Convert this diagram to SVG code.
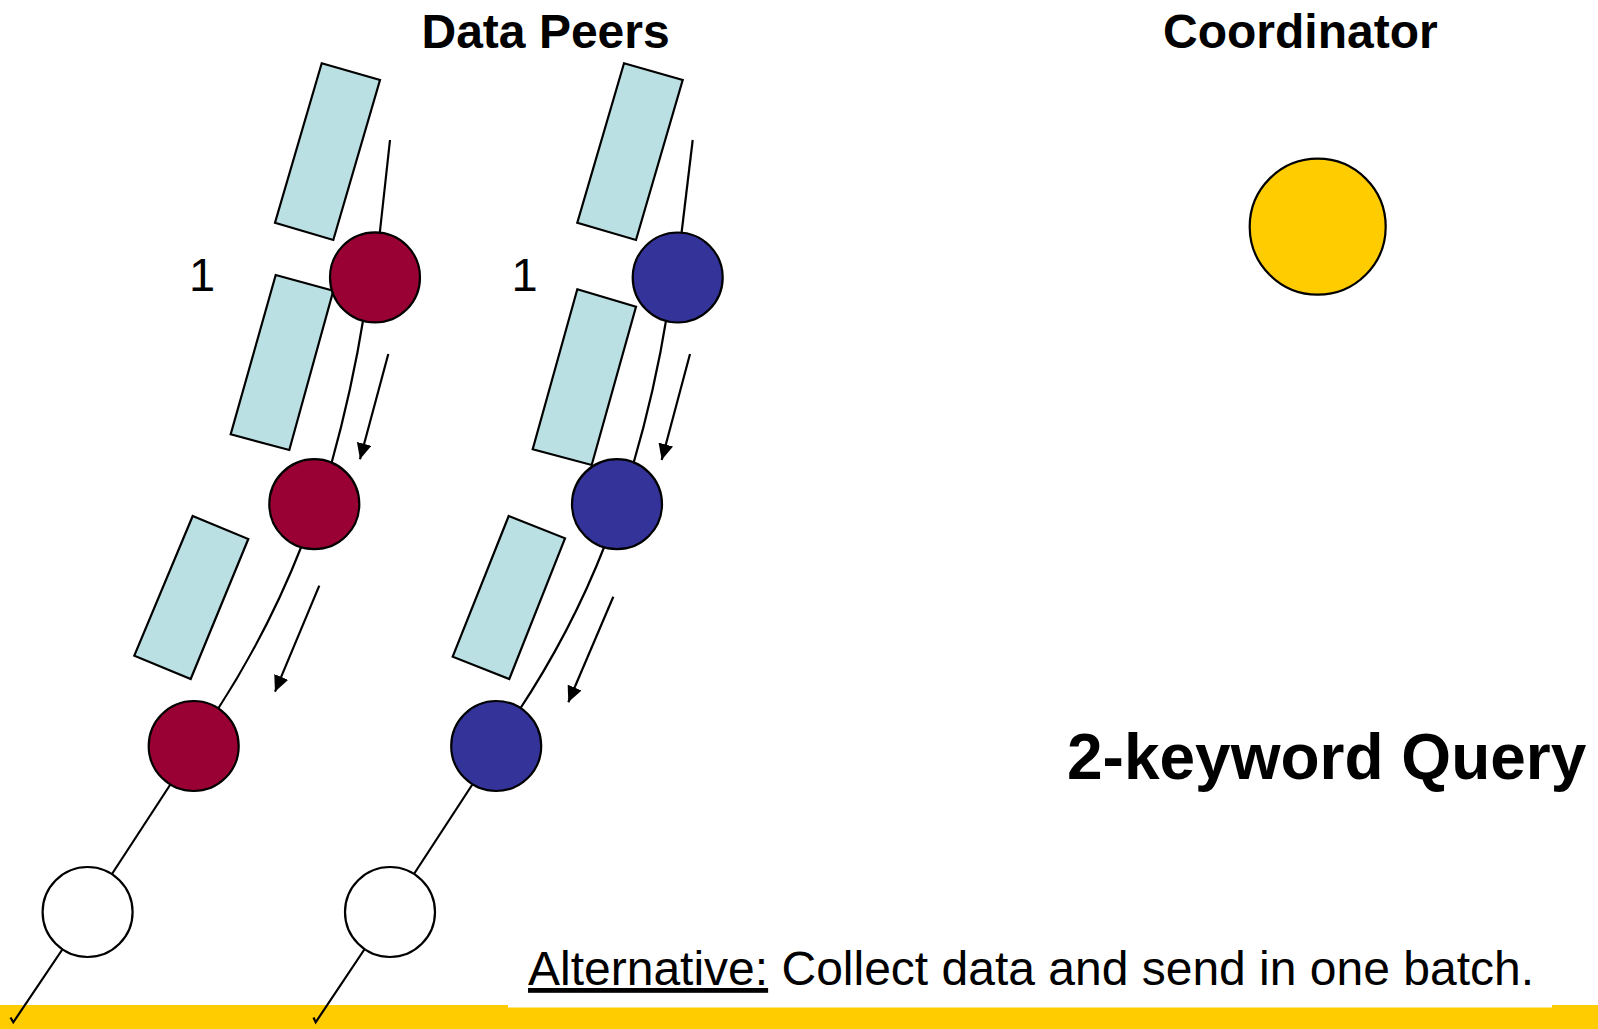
<svg xmlns="http://www.w3.org/2000/svg" width="1598" height="1029" viewBox="0 0 1598 1029">
<style>
.t{font-family:"Liberation Sans",Arial,sans-serif;fill:#000}
.b{font-weight:bold}
.doc{fill:#BBE0E3;stroke:#000;stroke-width:2.2;stroke-linejoin:miter}
.red{fill:#990033;stroke:#000;stroke-width:2.2}
.blue{fill:#333399;stroke:#000;stroke-width:2.2}
.white{fill:#fff;stroke:#000;stroke-width:2.2}
.coord{fill:#FFCC00;stroke:#000;stroke-width:2.2}
.ln{fill:none;stroke:#000;stroke-width:2.2}
.ar{fill:none;stroke:#000;stroke-width:2.2;marker-end:url(#ah)}
</style>
<defs>
<marker id="ah" markerUnits="userSpaceOnUse" markerWidth="17" markerHeight="16" refX="16" refY="7.5" orient="auto">
<path d="M0,0 L16,7.5 L0,15 z" fill="#000"/>
</marker>
</defs>
<rect x="0" y="0" width="1598" height="1029" fill="#fff"/>
<rect id="bar" x="0" y="1005" width="1598" height="24" fill="#FFCC00"/>
<rect x="508" y="1003" width="1044" height="4.5" fill="#fff"/>

<g id="docs">
<polygon id="doc-r1" class="doc" points="321.7,63.3 380,80 333.3,240 275,222.7"/>
<polygon id="doc-r2" class="doc" points="275.7,275 333.3,290.7 289.3,450 230.7,434.3"/>
<polygon id="doc-r3" class="doc" points="192.7,516 248.3,539 190.7,679 134.3,655.7"/>
<polygon id="doc-b1" class="doc" points="624,63.3 682.7,80 636,240 577.3,222.7"/>
<polygon id="doc-b2" class="doc" points="577.3,289.3 636,306.7 591.7,465 532.7,449.3"/>
<polygon id="doc-b3" class="doc" points="508.7,516 565,538.3 509.3,679 452.7,656.7"/>
</g>

<g id="connectors">
<path class="ln" d="M390,140 L379,240"/>
<path class="ln" d="M692.7,140 L680.7,240"/>
<path class="ln" d="M364,315 Q352,390 331,465"/>
<path class="ln" d="M667,315 Q655,390 633,465"/>
<path class="ln" d="M302,545 Q268,632 216,712"/>
<path class="ln" d="M605,545 Q571,632 518,712"/>
<path class="ln" d="M172,782 L110,877"/>
<path class="ln" d="M474,782 L412,877"/>
<path class="ln" d="M64,947 L13.3,1022.3 L10.5,1017.5"/>
<path class="ln" d="M366,947 L315.7,1022.3 L313.5,1017.5"/>
<path class="ar" d="M388.3,354 L360,459.3"/>
<path class="ar" d="M319.3,585.7 L275,691.7"/>
<path class="ar" d="M690,354 L661.7,460"/>
<path class="ar" d="M613.3,596.7 L568.3,702.3"/>
</g>

<g id="peer-r1"><circle class="red" cx="375" cy="277.4" r="45"/></g>
<g id="peer-r2"><circle class="red" cx="314.3" cy="504.2" r="45"/></g>
<g id="peer-r3"><circle class="red" cx="193.7" cy="746" r="45"/></g>
<g id="peer-b1"><circle class="blue" cx="677.7" cy="277.5" r="45"/></g>
<g id="peer-b2"><circle class="blue" cx="617" cy="504.2" r="45"/></g>
<g id="peer-b3"><circle class="blue" cx="496.2" cy="746" r="45"/></g>
<g id="peer-w1"><circle class="white" cx="87.6" cy="912" r="45"/></g>
<g id="peer-w2"><circle class="white" cx="390" cy="912" r="45"/></g>
<g id="coordinator"><circle class="coord" cx="1317.7" cy="226.7" r="68"/></g>

<g id="labels">
<text class="t b" x="421.5" y="48.3" font-size="48">Data Peers</text>
<text class="t b" x="1163" y="48.3" font-size="48">Coordinator</text>
<text class="t" x="189" y="290.7" font-size="47">1</text>
<text class="t" x="511.5" y="290.7" font-size="47">1</text>
<text class="t b" x="1067" y="779" font-size="64">2-keyword Query</text>
<text class="t" x="528" y="985" font-size="48"><tspan text-decoration="underline">Alternative:</tspan> Collect data and send in one batch.</text>
</g>
</svg>
